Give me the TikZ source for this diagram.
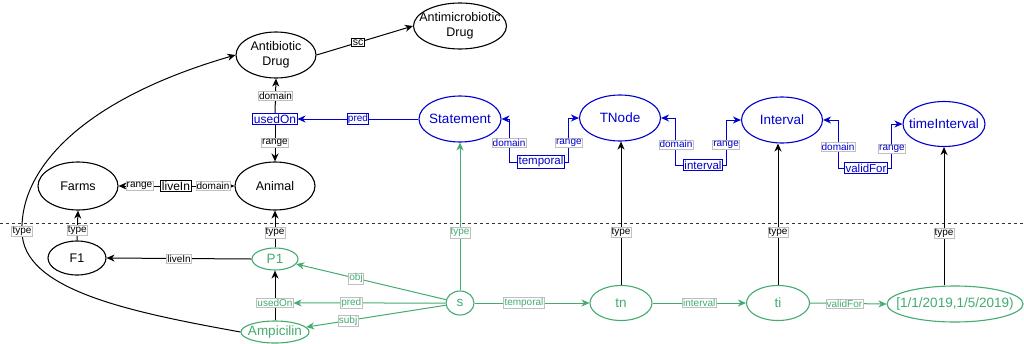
\documentclass[tikz,border=0pt]{standalone}
\usepackage{fontspec}
\setmainfont{Liberation Sans}
\usetikzlibrary{arrows.meta,shapes.geometric}
\definecolor{bl}{RGB}{0,0,204}
\definecolor{gr}{RGB}{67,171,112}
\begin{document}
\begin{tikzpicture}[x=1pt,y=-1pt,
  every node/.style={align=center},
  ell/.style={ellipse, draw, line width=1.1pt, inner sep=0pt},
  big/.style={font=\fontsize{12.5}{14.5}\selectfont},
  bigger/.style={font=\fontsize{13.5}{15}\selectfont},
  lab/.style={font=\fontsize{10}{11}\selectfont, fill=white, draw=black!25, line width=0.5pt, inner sep=0.8pt},
  boxlab/.style={draw, line width=1pt, inner sep=1pt, fill=white},
  conn/.style={line width=1pt},
  arr/.style={-{Stealth[length=8pt,width=7pt,inset=2.5pt]}},
]
\useasboundingbox (0,0) rectangle (1024,343);

% dashed separator
\coordinate (dl) at (0,223);
\coordinate (dr) at (1024,223);
\draw[dash pattern=on 3pt off 3pt, line width=1pt, black!80] (dl) -- (dr);

% ---- schema (top, black) ----
\node[ell, minimum width=80, minimum height=46, label={[big]center:Antibiotic\\Drug}] (ab) at (276,55) {};
\node[ell, minimum width=93, minimum height=46, label={[big]center:Antimicrobiotic\\Drug}] (am) at (460,26) {};
\node[boxlab, draw=bl, text=bl, font=\fontsize{12}{14}\selectfont] (uo) at (275,119) {usedOn};
\node[ell, minimum width=80, minimum height=48, label={[big]center:Animal}] (an) at (275,186) {};
\node[ell, minimum width=80, minimum height=48, label={[big]center:Farms}] (fa) at (78,186) {};
\node[boxlab, font=\fontsize{12}{14}\selectfont] (li) at (176,186) {liveIn};

% ---- schema (top, blue) ----
\node[ell, draw=bl, minimum width=82, minimum height=46, label={[bigger,text=bl]center:Statement}] (st) at (460,119) {};
\node[ell, draw=bl, minimum width=81, minimum height=46, label={[bigger,text=bl]center:TNode}] (tnode) at (620,118) {};
\node[ell, draw=bl, minimum width=81, minimum height=46, label={[bigger,text=bl]center:Interval}] (intv) at (782,120) {};
\node[ell, draw=bl, minimum width=82, minimum height=45, label={[bigger,text=bl]center:timeInterval}] (tint) at (944,124) {};
\node[boxlab, draw=bl, text=bl, font=\fontsize{11.5}{13}\selectfont] (tp) at (541,162) {temporal};
\node[boxlab, draw=bl, text=bl, font=\fontsize{11.5}{13}\selectfont] (iv) at (703,165) {interval};
\node[boxlab, draw=bl, text=bl, font=\fontsize{11.5}{13}\selectfont] (vf) at (866,168) {validFor};

% ---- instances (bottom) ----
\node[ell, minimum width=58, minimum height=34, label={[big]center:F1}] (f1) at (77,258) {};
\node[ell, draw=gr, minimum width=46, minimum height=22, label={[bigger,text=gr]center:P1}] (p1) at (275,259) {};
\node[ell, draw=gr, minimum width=68, minimum height=22, label={[bigger,text=gr]center:Ampicilin}] (amp) at (275,332) {};
\node[ell, draw=gr, minimum width=28, minimum height=24, label={[bigger,text=gr]center:s}] (s) at (460,303) {};
\node[ell, draw=gr, minimum width=62, minimum height=35, label={[bigger,text=gr]center:tn}] (tn) at (621,303) {};
\node[ell, draw=gr, minimum width=63, minimum height=35, label={[bigger,text=gr]center:ti}] (ti) at (778,303) {};
\node[ell, draw=gr, minimum width=136, minimum height=36, label={[bigger,text=gr]center:[1/1/2019,1/5/2019)}] (dt) at (955,304) {};

% ---- schema edges ----
\draw[conn,arr] (ab.east) -- node[boxlab, pos=0.43, font=\fontsize{10.5}{12}\selectfont, inner sep=0.8pt]{sc} (am.west);
\draw[conn,arr] (uo.north) -- node[lab]{domain} (ab.south);
\draw[conn,arr] (uo.south) -- node[lab]{range} (an.north);
\draw[conn,arr,bl] (st.west) -- node[boxlab, draw=bl, text=bl, font=\fontsize{10}{11}\selectfont, inner sep=0.8pt]{pred} (uo.east);
\draw[conn,arr] (li.west) -- node[lab]{range} (fa.east);
\draw[conn,arr] (li.east) -- node[lab]{domain} (an.west);

\draw[conn,arr,bl] (tp.west) -- ++(-8,0) |- node[lab,pos=0.22]{domain} (st.east);
\draw[conn,arr,bl] (tp.east) -- ++(4,0) |- node[lab,pos=0.22]{range} (tnode.west);
\draw[conn,arr,bl] (iv.west) -- ++(-7,0) |- node[lab,pos=0.22]{domain} (tnode.east);
\draw[conn,arr,bl] (iv.east) -- ++(3,0) |- node[lab,pos=0.22]{range} (intv.west);
\draw[conn,arr,bl] (vf.west) -- ++(-6,0) |- node[lab,pos=0.22]{domain} (intv.east);
\draw[conn,arr,bl] (vf.east) -- ++(4,0) |- node[lab,pos=0.22]{range} (tint.west);

% ---- instance edges ----
\draw[conn,arr] (f1.north) -- node[lab,pos=0.33]{type} (fa.south);
\draw[conn,arr] (p1.north) -- node[lab,pos=0.4]{type} (an.south);
\draw[conn,arr] (p1.west) -- node[lab]{liveIn} (f1.east);
\draw[conn,arr] (amp.north) -- node[lab,pos=0.35,text=gr] (uol) {usedOn} (p1.south);

\draw[conn,arr,gr] (s) -- node[lab,pos=0.6]{obj} (p1);
\draw[conn,arr,gr] (s.west) -- node[lab,pos=0.62]{pred} (uol.east);
\draw[conn,arr,gr] (s) -- node[lab,pos=0.7]{subj} (amp);
\draw[conn,arr,gr] (s.north) -- node[lab,pos=0.39]{type} (st.south);
\draw[conn,arr,gr] (s.east) -- node[lab,pos=0.43]{temporal} (tn.west);
\draw[conn,arr,gr] (tn.east) -- node[lab]{interval} (ti.west);
\draw[conn,arr,gr] (ti.east) -- node[lab,pos=0.45]{validFor} (dt.west);

\draw[conn,arr] (tn.north) -- node[lab,pos=0.37]{type} (tn.north |- tnode.south);
\draw[conn,arr] (ti.north) -- node[lab,pos=0.37]{type} (ti.north |- intv.south);
\draw[conn,arr] (dt.north -| tint.south) -- node[lab,pos=0.38]{type} (tint.south);

% curved type edge Ampicilin -> Antibiotic Drug
\coordinate (tyc) at (22,231);
\draw[conn,arr] (amp.west) .. controls (130,312) and (22,290) .. (tyc) node[lab]{type}
   .. controls (20,170) and (80,100) .. (ab.west);
\end{tikzpicture}
\end{document}
